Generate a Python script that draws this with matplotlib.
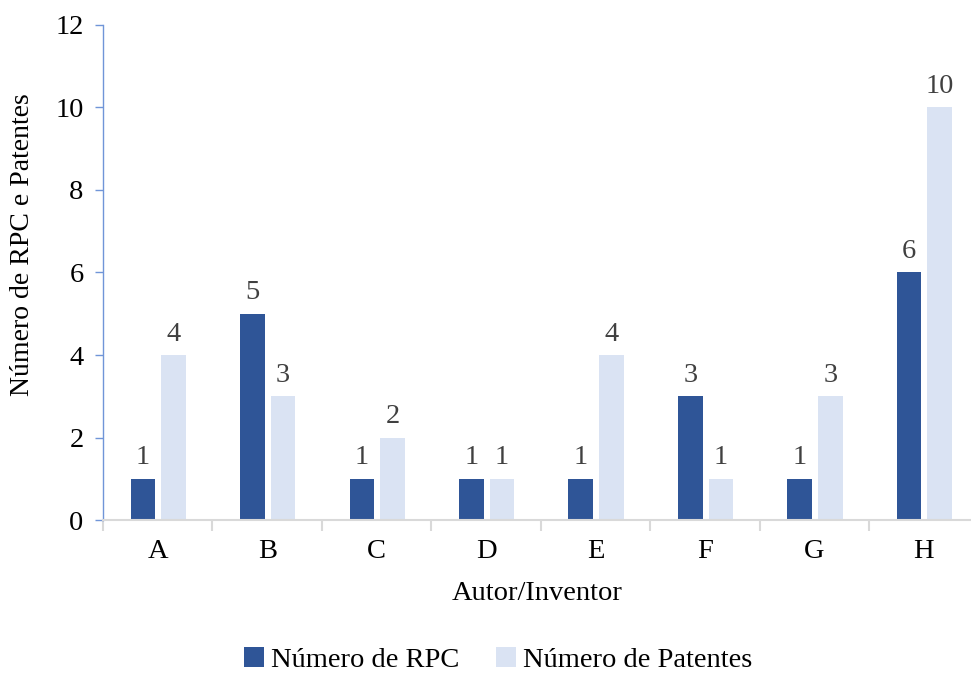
import numpy as np
import matplotlib.pyplot as plt
from matplotlib.ticker import FixedLocator

plt.rcParams['font.family'] = ['Liberation Serif', 'DejaVu Serif']

autores = ['A', 'B', 'C', 'D', 'E', 'F', 'G', 'H']
num_rpc = [1, 5, 1, 1, 1, 3, 1, 6]
num_patentes = [4, 3, 2, 1, 4, 1, 3, 10]

cor_rpc = '#2F5597'
cor_pat = '#DAE3F3'
cor_eixo_y = '#7095D8'
cor_eixo_x = '#D9D9D9'
cor_rotulo = '#404040'
fs = 20.5


def main():
    fig = plt.figure(figsize=(9.71, 6.73), dpi=100)
    ax = fig.add_axes([0.1061, 0.2273, 1.0 - 0.1061, 0.9629 - 0.2273])

    x = np.arange(len(autores))
    w = 0.225
    b1 = ax.bar(x - 0.135, num_rpc, w, color=cor_rpc, label='Número de RPC', zorder=2)
    b2 = ax.bar(x + 0.145, num_patentes, w, color=cor_pat, label='Número de Patentes', zorder=2)

    for bars in (b1, b2):
        for rect in bars:
            h = rect.get_height()
            ax.annotate(f'{h:g}', (rect.get_x() + rect.get_width() / 2, h),
                        xytext=(0, 6), textcoords='offset points',
                        ha='center', va='bottom', fontsize=fs, color=cor_rotulo)

    ax.set_ylim(0, 12)
    ax.set_yticks(range(0, 13, 2))
    ax.set_xlim(-0.5, 7.43)
    ax.set_xticks(x)
    ax.set_xticklabels(autores)
    ax.xaxis.set_minor_locator(FixedLocator(np.arange(-0.5, 8, 1)))

    for s in ('top', 'right'):
        ax.spines[s].set_visible(False)
    ax.spines['left'].set_color(cor_eixo_y)
    ax.spines['left'].set_linewidth(1.0)
    ax.spines['bottom'].set_color(cor_eixo_x)
    ax.spines['bottom'].set_linewidth(1.5)

    ax.tick_params(axis='y', colors=cor_eixo_y, labelcolor='black', labelsize=fs,
                   length=6, width=1.0, pad=8)
    ax.tick_params(axis='x', which='major', length=0, labelsize=fs, pad=14)
    ax.tick_params(axis='x', which='minor', length=8, width=1.5, color=cor_eixo_x)

    ax.set_xlabel('Autor/Inventor', fontsize=fs, labelpad=12)
    ax.set_ylabel('Número de RPC e Patentes', fontsize=20)
    ax.yaxis.set_label_coords(-0.078, 0.556)

    fig.legend(handles=[b1, b2], loc='center', bbox_to_anchor=(0.513, 0.02),
               ncol=2, frameon=False, fontsize=fs, handlelength=0.7,
               handleheight=0.7, handletextpad=0.25, columnspacing=1.3)

    fig.savefig('out.png', dpi=100)


if __name__ == '__main__':
    main()
